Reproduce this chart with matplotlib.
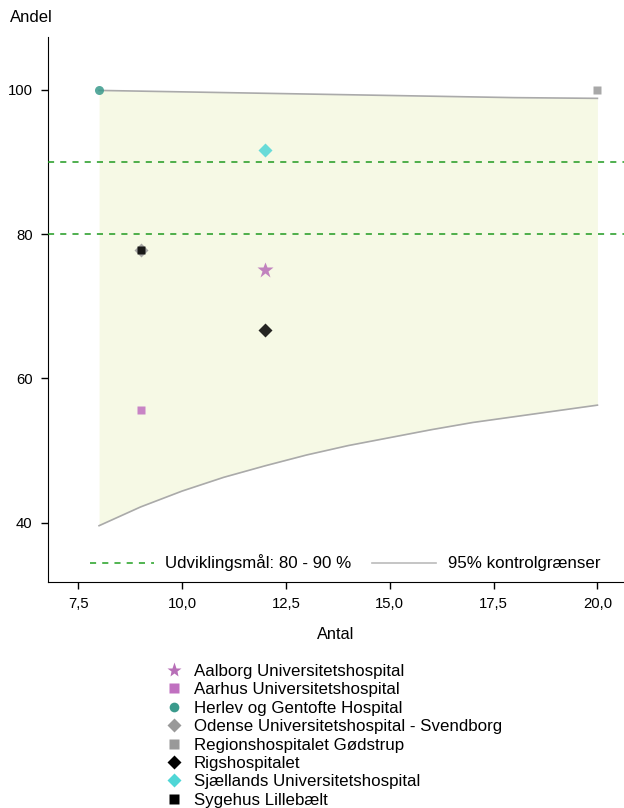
import matplotlib
matplotlib.use("Agg")
import matplotlib.pyplot as plt
from matplotlib.lines import Line2D

plt.rcParams['font.family'] = ['Liberation Sans', 'DejaVu Sans']

# Data
hospitals = ["Aalborg Universitetshospital", "Aarhus Universitetshospital",
             "Herlev og Gentofte Hospital", "Odense Universitetshospital - Svendborg",
             "Regionshospitalet Gødstrup", "Rigshospitalet",
             "Sjællands Universitetshospital", "Sygehus Lillebælt"]
antal = [12, 9, 8, 9, 20, 12, 12, 9]
andel = [75.0, 55.6, 100.0, 77.8, 100.0, 66.7, 91.7, 77.8]
markers = ["*", "s", "o", "D", "s", "D", "D", "s"]
colors = ["#b86fb8", "#c070c0", "#3a9a8c", "#999999", "#999999", "#000000", "#4fd6d6", "#000000"]
sizes = [12, 6, 6.5, 7, 6, 7, 7, 6]

limit_n = [8, 9, 10, 11, 12, 13, 14, 15, 16, 17, 18, 19, 20]
lower_limit = [39.6, 42.2, 44.4, 46.3, 47.9, 49.4, 50.7, 51.8, 52.9, 53.9, 54.7, 55.5, 56.3]
upper_limit = [99.9, 99.8, 99.7, 99.6, 99.5, 99.4, 99.3, 99.2, 99.1, 99.0, 98.9, 98.85, 98.8]

target_low, target_high = 80, 90
xticks = [7.5, 10.0, 12.5, 15.0, 17.5, 20.0]
yticks = [40, 60, 80, 100]

fig = plt.figure(figsize=(6.24, 8.08), dpi=100)
ax = fig.add_axes([48/624, 1-582/808, 1-48/624, (582-37)/808])

ax.fill_between(limit_n, lower_limit, upper_limit, color="#f6f9e5", lw=0, zorder=1)
ax.plot(limit_n, lower_limit, color="#aaaaaa", lw=1.2, zorder=2)
ax.plot(limit_n, upper_limit, color="#aaaaaa", lw=1.2, zorder=2)
for yv in (target_low, target_high):
    ax.axhline(yv, color="#1f9a1f", lw=1.1, ls=(0, (4, 4)), zorder=3)

for i in range(len(hospitals)):
    ax.plot(antal[i], andel[i], marker=markers[i], color=colors[i], ms=sizes[i],
            ls="none", alpha=0.85, mec="none", zorder=4 + (1 if markers[i] == "s" else 0),
            clip_on=False)

ax.set_xlim(6.77, 20.64)
ax.set_ylim(31.8, 107.3)
ax.set_xticks(xticks)
ax.set_xticklabels([f"{v:.1f}".replace(".", ",") for v in xticks])
ax.set_yticks(yticks)
ax.spines["top"].set_visible(False)
ax.spines["right"].set_visible(False)
ax.tick_params(labelsize=10.7, length=5, width=1, pad=6)
ax.set_xlabel("Antal", fontsize=11.8, labelpad=11)
fig.text(10/624, 1-17/808, "Andel", fontsize=12, va="center", ha="left")

h1 = Line2D([], [], color="#22a022", lw=1.1, ls=(0, (4, 4)))
h2 = Line2D([], [], color="#bbbbbb", lw=1.2)
ax.legend([h1, h2], ["Udviklingsmål: 80 - 90 %", "95% kontrolgrænser"],
          loc="center left", bbox_to_anchor=((89.5-48)/576, (582-563)/545), ncol=2, frameon=False,
          fontsize=12.2, handlelength=3.8, columnspacing=1.2, handletextpad=0.68, borderpad=0,
          borderaxespad=0)

handles = [Line2D([], [], marker=markers[i], color=colors[i], ls="none",
                  ms=(11 if markers[i] == "*" else 7), mec="none") for i in range(len(hospitals))]
fig.legend(handles, hospitals, loc="upper left", bbox_to_anchor=(165.7/624, 1-664/808),
           frameon=False, fontsize=12.2, handlelength=1.0, handletextpad=0.66,
           labelspacing=0.2, borderpad=0, borderaxespad=0)

fig.savefig("out.png", dpi=100)
